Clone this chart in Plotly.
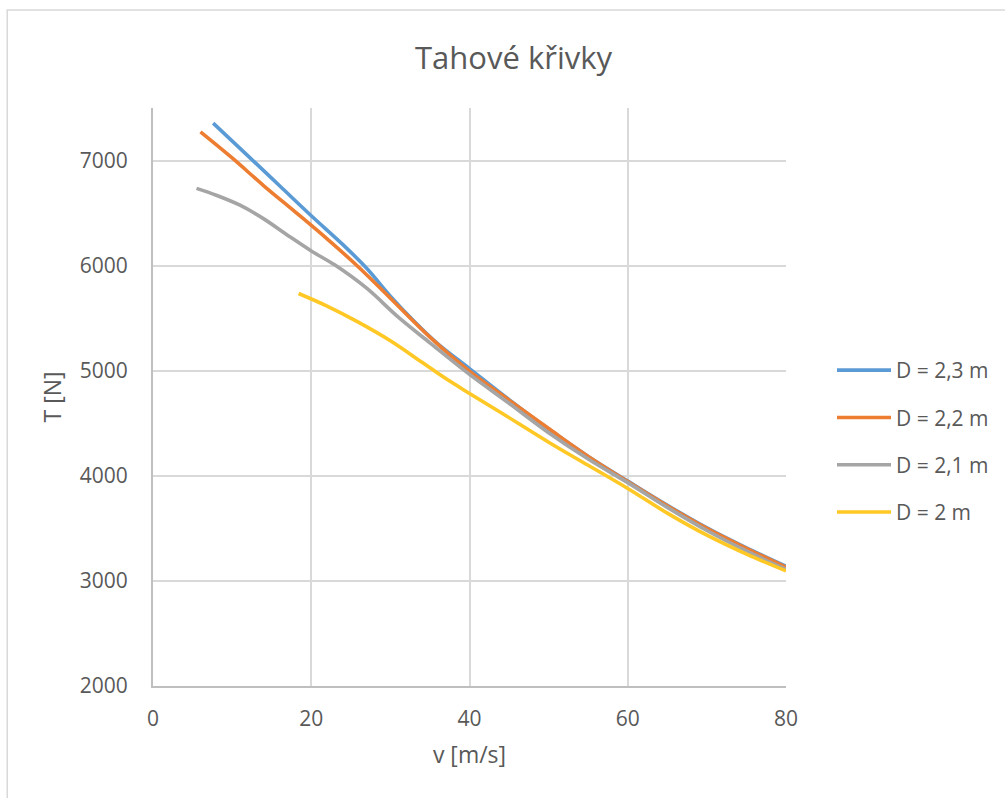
import plotly.graph_objects as go

# Thrust curves T(v) for four propeller diameters
v_23 = [7.6, 12, 16, 20, 24, 27, 30, 33, 36, 40, 45, 50, 55, 60, 65, 70, 75, 80]
t_23 = [7356, 7045, 6760, 6475, 6200, 5975, 5710, 5470, 5255, 5020, 4725, 4445, 4185, 3950, 3720, 3505, 3315, 3140]

v_22 = [6.0, 10, 14, 18, 22, 26, 30, 35, 40, 45, 50, 55, 60, 65, 70, 75, 80]
t_22 = [7273, 7025, 6760, 6510, 6255, 5985, 5690, 5320, 4995, 4720, 4450, 4185, 3945, 3715, 3500, 3310, 3130]

v_21 = [5.5, 8, 11, 14, 17, 20, 23, 27, 31, 35, 40, 45, 50, 55, 60, 65, 70, 75, 80]
t_21 = [6735, 6670, 6575, 6445, 6290, 6140, 6005, 5785, 5510, 5265, 4965, 4690, 4410, 4160, 3935, 3700, 3480, 3285, 3110]

v_20 = [18.4, 22, 26, 30, 34, 37, 40, 44, 50, 55, 60, 65, 70, 75, 80]
t_20 = [5735, 5615, 5460, 5285, 5080, 4925, 4784, 4600, 4320, 4100, 3880, 3645, 3435, 3255, 3095]

series_names = ["D = 2,3 m", "D = 2,2 m", "D = 2,1 m", "D = 2 m"]
series_colors = ["#5B9BD5", "#ED7D31", "#A5A5A5", "#FFC825"]
x_ticks = [0, 20, 40, 60, 80]
y_ticks = [2000, 3000, 4000, 5000, 6000, 7000]

FONT = "Open Sans"
TEXT = "#595959"

fig = go.Figure()
for i, (vx, ty) in enumerate([(v_23, t_23), (v_22, t_22), (v_21, t_21), (v_20, t_20)]):
    fig.add_trace(go.Scatter(
        x=vx, y=ty, mode="lines", name=series_names[i],
        legendgroup=f"g{i}",
        line=dict(color=series_colors[i], width=3.6, shape="spline", smoothing=1.0),
    ))

L, R, T, B = 153, 218, 108, 112
W, H = 1005, 798
pw, ph = W - L - R, H - T - B

fig.update_layout(
    width=W, height=H,
    margin=dict(l=L, r=R, t=T, b=B),
    paper_bgcolor="white", plot_bgcolor="white",
    font=dict(family=FONT, color=TEXT),
    title=dict(text="Tahové křivky", x=0.511, xanchor="center", y=1 - 58 / H, yanchor="middle",
               font=dict(family=FONT, size=31, color=TEXT)),
    legend=dict(x=(832 - L) / pw, y=(H - B - 350) / ph, xanchor="left", yanchor="top",
                font=dict(family=FONT, size=21, color=TEXT), tracegroupgap=17, itemwidth=54,
                bgcolor="rgba(0,0,0,0)"),
    showlegend=True,
)

fig.update_xaxes(
    range=[0, 80], tickvals=x_ticks, ticktext=[str(t) for t in x_ticks],
    showgrid=True, gridcolor="#D9D9D9", gridwidth=1.5,
    showline=True, linecolor="#BFBFBF", linewidth=2,
    zeroline=False, ticks="",
    tickfont=dict(family=FONT, size=21, color=TEXT), ticklabelstandoff=13,
    title=dict(text="v [m/s]", font=dict(family=FONT, size=23, color=TEXT), standoff=16),
)
fig.update_yaxes(
    range=[2000, 7500], tickvals=y_ticks, ticktext=[str(t) for t in y_ticks],
    showgrid=True, gridcolor="#D9D9D9", gridwidth=1.5,
    showline=True, linecolor="#BFBFBF", linewidth=2,
    zeroline=False, ticks="",
    tickfont=dict(family=FONT, size=21, color=TEXT), ticklabelstandoff=19,
    title=dict(text="T [N]", font=dict(family=FONT, size=23, color=TEXT), standoff=12),
)

# outer chart frame
fig.add_shape(type="rect", xref="paper", yref="paper",
              x0=(7 - L) / pw, x1=(W + 5 - L) / pw, y0=(H - B - (H + 5)) / ph, y1=(H - B - 10) / ph,
              line=dict(color="#D9D9D9", width=1.5), fillcolor="rgba(0,0,0,0)", layer="below")

fig.write_html("out.html")
